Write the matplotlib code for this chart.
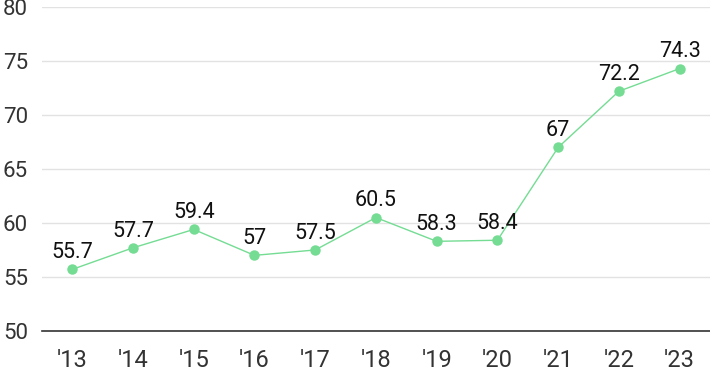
import matplotlib.pyplot as plt

plt.rcParams['font.family'] = ['Roboto', 'DejaVu Sans']

years = ["'13", "'14", "'15", "'16", "'17", "'18", "'19", "'20", "'21", "'22", "'23"]
values = [55.7, 57.7, 59.4, 57, 57.5, 60.5, 58.3, 58.4, 67, 72.2, 74.3]
labels = ["55.7", "57.7", "59.4", "57", "57.5", "60.5", "58.3", "58.4", "67", "72.2", "74.3"]

fig = plt.figure(figsize=(7.10, 3.71), dpi=100)
ax = fig.add_axes([0.059, 0.108, 0.941, 0.873])

x = list(range(len(years)))
ax.plot(x, values, color='#74dc93', linewidth=1, marker='o', markersize=6.5, zorder=3)
for xi, v, lab in zip(x, values, labels):
    ax.annotate(lab, (xi, v), xytext=(0, 4.5), textcoords='offset points',
                ha='center', va='bottom', fontsize=15.5, color='#111111')

ax.set_xlim(-0.5, 10.5)
ax.set_ylim(50, 80)
ax.set_yticks(range(50, 81, 5))
ax.set_xticks(x)
ax.set_xticklabels(years)
ax.grid(axis='y', color='#e2e2e2', linewidth=1)
ax.set_axisbelow(True)
for s in ['top', 'right', 'left']:
    ax.spines[s].set_visible(False)
ax.spines['bottom'].set_color('#333333')
ax.spines['bottom'].set_linewidth(1.2)
ax.tick_params(axis='both', length=0, colors='#333333')
ax.tick_params(axis='y', pad=10, labelsize=16)
ax.tick_params(axis='x', pad=13, labelsize=17)

fig.savefig('out.png', dpi=100)
